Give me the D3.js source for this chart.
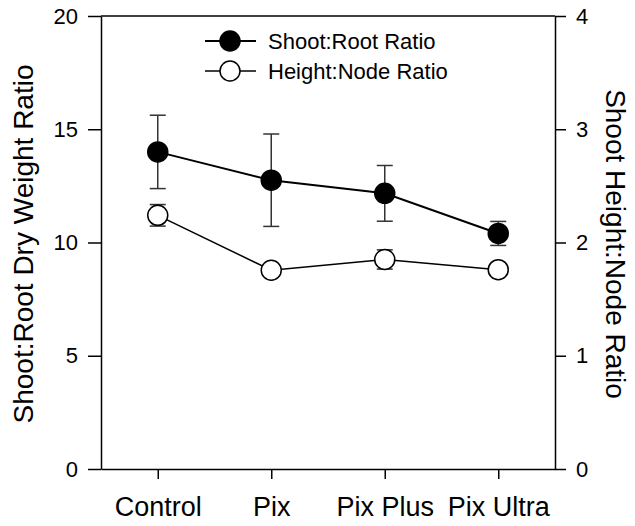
<!DOCTYPE html>
<html>
<head>
<meta charset="utf-8">
<script src="https://cdn.jsdelivr.net/npm/d3@7"></script>
<style>
  body { margin: 0; background: #fff; }
  svg { display: block; font-family: "Liberation Sans", Arial, Helvetica, sans-serif; }
</style>
</head>
<body>
<svg id="chart" width="635" height="526"></svg>
<script>
const categories = ["Control", "Pix", "Pix Plus", "Pix Ultra"];
const shootRoot = [14.0, 12.75, 12.17, 10.4];
const shootRootErr = [1.62, 2.04, 1.23, 0.53];
const heightNode = [2.24, 1.755, 1.85, 1.76];
const heightNodeErr = [0.095, 0.05, 0.085, 0.05];
const leftTicks = [0, 5, 10, 15, 20];
const rightTicks = [0, 1, 2, 3, 4];
const seriesNames = ["Shoot:Root Ratio", "Height:Node Ratio"];

const svg = d3.select("#chart");
const m = { left: 101, right: 555, top: 16, bottom: 469 };

const x = d3.scalePoint().domain(categories).range([m.left, m.right]).padding(0.5);
const yL = d3.scaleLinear().domain([0, 20]).range([m.bottom, m.top]);
const yR = d3.scaleLinear().domain([0, 4]).range([m.bottom, m.top]);

// frame top
svg.append("line").attr("x1", m.left).attr("x2", m.right)
  .attr("y1", m.top).attr("y2", m.top).attr("stroke", "#000").attr("stroke-width", 1.5);

const axL = svg.append("g").attr("transform", `translate(${m.left},0)`)
  .call(d3.axisLeft(yL).tickValues(leftTicks).tickFormat(d3.format("d")).tickSize(13).tickSizeOuter(0).tickPadding(10));
const axR = svg.append("g").attr("transform", `translate(${m.right},0)`)
  .call(d3.axisRight(yR).tickValues(rightTicks).tickFormat(d3.format("d")).tickSize(11).tickSizeOuter(0).tickPadding(10));
const axB = svg.append("g").attr("transform", `translate(0,${m.bottom})`)
  .call(d3.axisBottom(x).tickSize(10).tickSizeOuter(0).tickPadding(18));

[axL, axR, axB].forEach(a => {
  a.selectAll("path, line").attr("stroke", "#000").attr("stroke-width", 1.5);
  a.selectAll("text").attr("fill", "#000").attr("font-family", '"Liberation Sans", Arial, sans-serif');
});
axL.selectAll("text").attr("font-size", 22);
axR.selectAll("text").attr("font-size", 22);
axB.selectAll("text").attr("font-size", 27);

// axis titles
svg.append("text").attr("transform", `translate(33,244) rotate(-90)`)
  .attr("text-anchor", "middle")
  .attr("font-size", 28).text("Shoot:Root Dry Weight Ratio");
svg.append("text").attr("transform", `translate(606,244) rotate(90)`)
  .attr("text-anchor", "middle")
  .attr("font-size", 28).text("Shoot Height:Node Ratio");

function drawSeries(vals, errs, y, filled, lw) {
  const g = svg.append("g");
  const pts = categories.map((c, i) => ({ c, v: vals[i], e: errs[i] }));
  pts.forEach(p => {
    const cx = x(p.c);
    g.append("line").attr("x1", cx).attr("x2", cx).attr("y1", y(p.v + p.e)).attr("y2", y(p.v - p.e))
      .attr("stroke", "#333").attr("stroke-width", 1.5);
    [p.v + p.e, p.v - p.e].forEach(v => {
      g.append("line").attr("x1", cx - 8).attr("x2", cx + 8).attr("y1", y(v)).attr("y2", y(v))
        .attr("stroke", "#333").attr("stroke-width", 1.5);
    });
  });
  g.append("path").datum(pts)
    .attr("d", d3.line().x(d => x(d.c)).y(d => y(d.v)))
    .attr("fill", "none").attr("stroke", "#000").attr("stroke-width", lw);
  g.selectAll("circle").data(pts).join("circle")
    .attr("cx", d => x(d.c)).attr("cy", d => y(d.v)).attr("r", 10)
    .attr("fill", filled ? "#000" : "#fff").attr("stroke", "#000").attr("stroke-width", 1.5);
}

drawSeries(heightNode, heightNodeErr, yR, false, 1.5);
drawSeries(shootRoot, shootRootErr, yL, true, 2);

// legend
const leg = svg.append("g");
seriesNames.forEach((name, i) => {
  const ly = 41 + i * 30;
  leg.append("line").attr("x1", 205).attr("x2", 256).attr("y1", ly).attr("y2", ly)
    .attr("stroke", "#000").attr("stroke-width", i === 0 ? 2 : 1.5);
  leg.append("circle").attr("cx", 230).attr("cy", ly).attr("r", 10)
    .attr("fill", i === 0 ? "#000" : "#fff").attr("stroke", "#000").attr("stroke-width", 1.5);
  leg.append("text").attr("x", 268).attr("y", ly).attr("dominant-baseline", "central")
    .attr("font-size", 22).text(name);
});
</script>
</body>
</html>
